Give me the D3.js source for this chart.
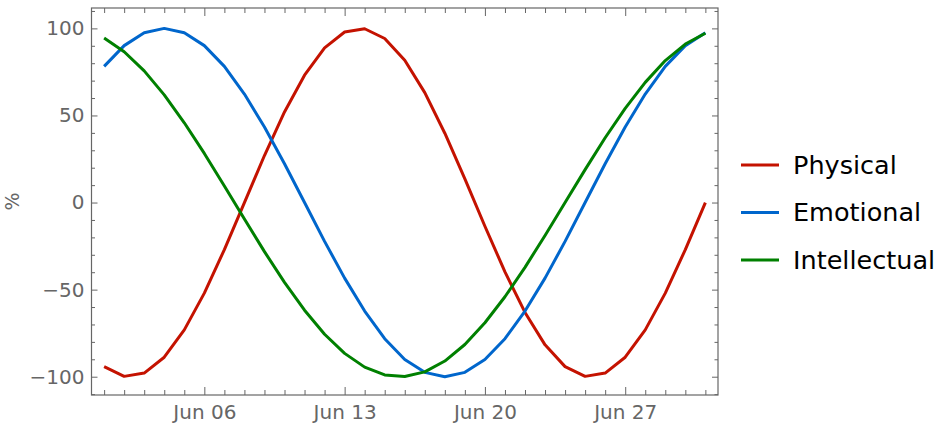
<!DOCTYPE html>
<html><head><meta charset="utf-8">
<script src="https://cdn.jsdelivr.net/npm/d3@7"></script>
<style>
body{margin:0;background:#fff;}
svg{display:block;font-family:"DejaVu Sans",sans-serif;}
</style></head>
<body><svg id="c" width="950" height="428"></svg>
<script>
// Days: Jun 1 .. Jul 1 (31 daily points)
const startDate = "2023-06-01";
const physical = [-94.2,-99.8,-97.9,-88.8,-73.1,-52.0,-27.0,0,27.0,52.0,73.1,88.8,97.9,99.8,94.2,81.7,63.1,39.8,13.6,-13.6,-39.8,-63.1,-81.7,-94.2,-99.8,-97.9,-88.8,-73.1,-52.0,-27.0,0];
const emotional = [78.2,90.1,97.5,100,97.5,90.1,78.2,62.3,43.4,22.3,0,-22.3,-43.4,-62.3,-78.2,-90.1,-97.5,-100,-97.5,-90.1,-78.2,-62.3,-43.4,-22.3,0,22.3,43.4,62.3,78.2,90.1,97.5];
const intellectual = [94.5,86.6,75.6,61.8,45.8,28.2,9.5,-9.5,-28.2,-45.8,-61.8,-75.6,-86.6,-94.5,-99.0,-99.9,-97.2,-91.0,-81.5,-69.0,-54.1,-37.2,-18.9,0,18.9,37.2,54.1,69.0,81.5,91.0,97.2];
const seriesNames = ["Physical","Emotional","Intellectual"];
const seriesColors = ["#c41200","#0066cc","#008000"];
const xTickLabels = ["2023-06-06","2023-06-13","2023-06-20","2023-06-27"];
const yTicks = [-100,-50,0,50,100];
const yLabel = "%";

const DAY = 86400000;
const t0 = Date.parse(startDate + "T00:00:00Z");
const dates = physical.map((_, i) => new Date(t0 + i * DAY));
const allSeries = [physical, emotional, intellectual];

const L = 91.5, R = 718, T = 8, B = 395;
const x = d3.scaleUtc()
  .domain([new Date(t0 - 0.63 * DAY), new Date(t0 + 30.63 * DAY)])
  .range([L, R]);
const y = d3.scaleLinear().domain([-110.5, 111.7]).range([B, T]);

const svg = d3.select("#c");
const axisColor = "#666";
const fmt = d3.utcFormat("%b %d");
const majorX = xTickLabels.map(s => new Date(Date.parse(s + "T00:00:00Z")));
const minorX = d3.range(0, 31).map(i => new Date(t0 + i * DAY)).filter(d => !majorX.some(m => +m === +d));
const minorY = d3.range(-110, 111, 10).filter(v => !yTicks.includes(v));

function styleAxis(g) {
  g.select(".domain").remove();
  g.attr("font-size", null).attr("font-family", null);
  g.selectAll(".tick line").attr("stroke", axisColor).attr("stroke-width", 1);
  g.selectAll(".tick text").attr("fill", axisColor).style("font-size", "20px").style("font-family", "'DejaVu Sans', sans-serif");
}

// bottom major
svg.append("g").attr("transform", `translate(0,${B})`)
  .call(d3.axisBottom(x).tickValues(majorX).tickFormat(fmt).tickSizeInner(-8).tickPadding(10))
  .call(styleAxis);
svg.append("g").attr("transform", `translate(0,${B})`)
  .call(d3.axisBottom(x).tickValues(minorX).tickFormat("").tickSizeInner(-5))
  .call(styleAxis);
// top
svg.append("g").attr("transform", `translate(0,${T})`)
  .call(d3.axisTop(x).tickValues(majorX).tickFormat("").tickSizeInner(-8))
  .call(styleAxis);
svg.append("g").attr("transform", `translate(0,${T})`)
  .call(d3.axisTop(x).tickValues(minorX).tickFormat("").tickSizeInner(-5))
  .call(styleAxis);
// left
svg.append("g").attr("transform", `translate(${L},0)`)
  .call(d3.axisLeft(y).tickValues(yTicks).tickFormat(d => d < 0 ? "\u2212" + Math.abs(d) : d).tickSizeInner(-6).tickPadding(7))
  .call(styleAxis);
svg.append("g").attr("transform", `translate(${L},0)`)
  .call(d3.axisLeft(y).tickValues(minorY).tickFormat("").tickSizeInner(-3.5))
  .call(styleAxis);
// right
svg.append("g").attr("transform", `translate(${R},0)`)
  .call(d3.axisRight(y).tickValues(yTicks).tickFormat("").tickSizeInner(-6))
  .call(styleAxis);
svg.append("g").attr("transform", `translate(${R},0)`)
  .call(d3.axisRight(y).tickValues(minorY).tickFormat("").tickSizeInner(-3.5))
  .call(styleAxis);

// frame
svg.append("rect").attr("x", L).attr("y", T).attr("width", R - L).attr("height", B - T)
  .attr("fill", "none").attr("stroke", axisColor).attr("stroke-width", 1.2);

// y label
svg.append("text").attr("transform", `translate(12,${(T + B) / 2}) rotate(-90)`)
  .attr("text-anchor", "middle").attr("dy", "0.35em").attr("fill", axisColor)
  .style("font-size", "19px").text(yLabel);

// lines
const line = d3.line().x((d, i) => x(dates[i])).y(d => y(d));
allSeries.forEach((s, k) => {
  svg.append("path").datum(s).attr("d", line)
    .attr("fill", "none").attr("stroke", seriesColors[k]).attr("stroke-width", 3)
    .attr("stroke-linejoin", "round");
});

// legend
const lg = svg.append("g");
seriesNames.forEach((n, k) => {
  const yy = 165 + k * 47.5;
  lg.append("line").attr("x1", 741).attr("x2", 779).attr("y1", yy).attr("y2", yy)
    .attr("stroke", seriesColors[k]).attr("stroke-width", 3);
  lg.append("text").attr("x", 793).attr("y", yy).attr("dy", "0.35em")
    .attr("fill", "#000").style("font-size", "25.5px").text(n);
});
</script></body></html>
